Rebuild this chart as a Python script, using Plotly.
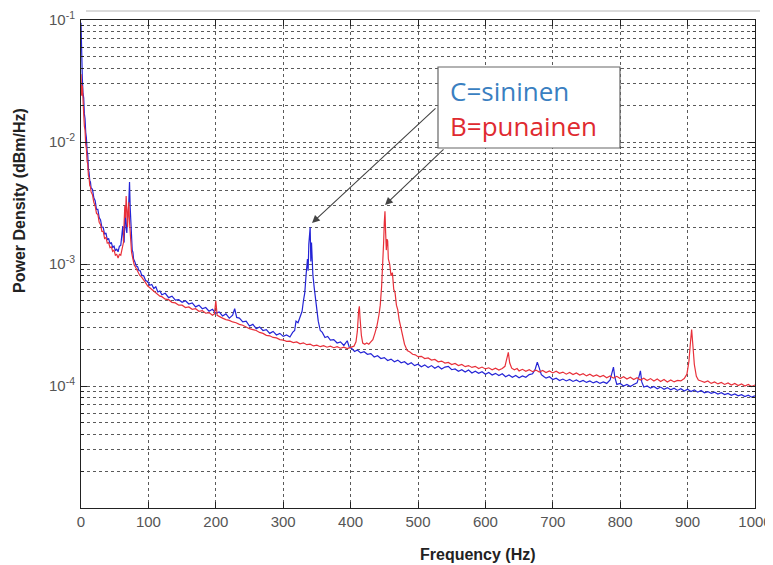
import plotly.graph_objects as go

# ---------------- data ----------------
freq_c = [0, 1, 2, 3, 4, 5, 6, 7, 8, 9, 10, 11, 12, 13, 14, 15, 17, 19, 21, 23, 25, 27, 29, 31, 33, 35,
          37, 39, 41, 43, 45, 47, 49, 51, 53, 55, 57, 59, 61, 62, 63, 64, 65, 66, 67, 68, 69, 70, 71, 72,
          73, 74, 75, 76, 77, 78, 80, 82, 84, 86, 88, 90, 93, 96, 99, 102, 105, 108, 111, 114, 117, 120,
          125, 130, 135, 140, 145, 150, 155, 160, 165, 170, 175, 180, 185, 190, 195, 200, 205, 210, 215,
          220, 225, 228, 231, 235, 240, 245, 250, 255, 260, 265, 270, 275, 280, 285, 290, 295, 300, 305,
          310, 314, 317, 319, 322, 325, 328, 330, 332, 334, 336, 337, 338, 340, 341, 342, 343, 344, 346,
          348, 350, 352, 355, 358, 362, 366, 370, 375, 380, 385, 390, 395, 398, 402, 406, 410, 415, 420,
          425, 430, 435, 440, 445, 450, 455, 460, 465, 470, 475, 480, 485, 490, 495, 500, 505, 510, 515,
          520, 525, 530, 535, 540, 545, 550, 555, 560, 565, 570, 575, 580, 585, 590, 595, 600, 605, 610,
          615, 620, 625, 630, 635, 640, 645, 650, 655, 660, 665, 670, 674, 677, 680, 683, 687, 690, 695,
          700, 705, 710, 715, 720, 725, 730, 735, 740, 745, 750, 755, 760, 765, 770, 775, 780, 785, 788,
          790, 792, 795, 800, 805, 810, 815, 820, 825, 828, 830, 832, 835, 840, 845, 850, 855, 860, 865,
          870, 875, 880, 885, 890, 895, 900, 905, 910, 915, 920, 925, 930, 935, 940, 945, 950, 955, 960,
          965, 970, 975, 980, 985, 990, 995, 1000]
psd_c = [9.5e-2, 4.6e-2, 3.3e-2, 2.5e-2, 2.3e-2, 1.7e-2, 1.55e-2, 1.2e-2, 1.08e-2, 8.5e-3, 7.8e-3,
         6.0e-3, 5.6e-3, 4.8e-3, 4.7e-3, 4.2e-3, 4.1e-3, 3.5e-3, 3.3e-3, 2.8e-3, 2.8e-3, 2.4e-3, 2.3e-3,
         2.0e-3, 2.0e-3, 1.75e-3, 1.8e-3, 1.58e-3, 1.62e-3, 1.46e-3, 1.5e-3, 1.37e-3, 1.4e-3, 1.28e-3,
         1.33e-3, 1.26e-3, 1.4e-3, 1.42e-3, 1.75e-3, 2.05e-3, 1.55e-3, 1.5e-3, 2.3e-3, 2.6e-3, 1.95e-3,
         1.8e-3, 2.35e-3, 2.5e-3, 3.3e-3, 4.7e-3, 2.9e-3, 2.0e-3, 1.65e-3, 1.3e-3, 1.25e-3, 1.1e-3,
         1.04e-3, 9.6e-4, 9.5e-4, 8.8e-4, 8.8e-4, 8.1e-4, 8.0e-4, 7.3e-4, 7.2e-4, 6.7e-4, 6.8e-4, 6.3e-4,
         6.5e-4, 5.9e-4, 6.0e-4, 5.6e-4,
         5.75e-4, 5.3e-4, 5.45e-4, 5.05e-4, 5.1e-4, 4.85e-4, 5.0e-4, 4.7e-4, 4.8e-4, 4.45e-4, 4.6e-4,
         4.3e-4, 4.4e-4, 4.1e-4, 4.25e-4, 3.95e-4, 4.05e-4, 3.75e-4, 3.9e-4,
         3.6e-4, 3.8e-4, 4.3e-4, 3.65e-4, 3.6e-4, 3.35e-4, 3.4e-4, 3.1e-4, 3.2e-4, 2.95e-4, 3.05e-4,
         2.85e-4, 2.9e-4, 2.7e-4, 2.8e-4, 2.62e-4, 2.7e-4, 2.55e-4, 2.62e-4,
         2.52e-4, 2.75e-4, 2.85e-4, 3.4e-4, 3.3e-4, 3.7e-4, 4.1e-4, 5.0e-4, 5.8e-4, 8.2e-4, 1.1e-3,
         8.8e-4, 1.45e-3, 2.0e-3, 1.05e-3, 1.5e-3, 9.5e-4, 8.2e-4, 6.4e-4,
         5.1e-4, 3.9e-4, 3.4e-4, 2.85e-4, 2.75e-4, 2.5e-4, 2.55e-4, 2.38e-4, 2.4e-4, 2.25e-4, 2.3e-4,
         2.15e-4, 2.35e-4, 2.08e-4, 2.02e-4, 1.92e-4, 1.97e-4, 1.87e-4, 1.91e-4,
         1.82e-4, 1.84e-4, 1.73e-4, 1.77e-4, 1.68e-4, 1.71e-4, 1.62e-4, 1.66e-4, 1.58e-4, 1.63e-4,
         1.55e-4, 1.58e-4, 1.5e-4, 1.55e-4, 1.47e-4, 1.51e-4, 1.44e-4, 1.49e-4, 1.42e-4,
         1.47e-4, 1.4e-4, 1.45e-4, 1.38e-4, 1.43e-4, 1.45e-4, 1.36e-4, 1.38e-4, 1.32e-4, 1.36e-4,
         1.3e-4, 1.35e-4, 1.28e-4, 1.32e-4, 1.27e-4, 1.31e-4, 1.25e-4, 1.29e-4, 1.23e-4,
         1.27e-4, 1.22e-4, 1.26e-4, 1.19e-4, 1.23e-4, 1.18e-4, 1.22e-4, 1.17e-4, 1.21e-4, 1.18e-4,
         1.24e-4, 1.26e-4, 1.38e-4, 1.57e-4, 1.4e-4, 1.24e-4, 1.19e-4, 1.16e-4, 1.19e-4,
         1.13e-4, 1.16e-4, 1.11e-4, 1.14e-4, 1.1e-4, 1.13e-4, 1.09e-4, 1.12e-4, 1.08e-4, 1.11e-4,
         1.07e-4, 1.1e-4, 1.06e-4, 1.09e-4, 1.05e-4, 1.08e-4, 1.05e-4, 1.12e-4, 1.3e-4,
         1.43e-4, 1.18e-4, 1.03e-4, 1.05e-4, 1.0e-4, 1.03e-4, 9.9e-5, 1.03e-4, 1.06e-4, 1.2e-4, 1.33e-4,
         1.08e-4, 9.8e-5, 1.0e-4, 9.6e-5, 9.9e-5, 9.5e-5, 9.8e-5, 9.4e-5,
         9.7e-5, 9.3e-5, 9.6e-5, 9.2e-5, 9.5e-5, 9.1e-5, 9.4e-5, 9.0e-5, 9.3e-5, 8.9e-5, 9.2e-5, 8.8e-5,
         9.0e-5, 8.7e-5, 8.9e-5, 8.6e-5, 8.8e-5, 8.5e-5, 8.7e-5,
         8.4e-5, 8.6e-5, 8.3e-5, 8.5e-5, 8.2e-5, 8.4e-5, 8.1e-5, 8.3e-5]

freq_b = [0, 1, 2, 3, 4, 5, 6, 7, 8, 9, 10, 11, 12, 13, 14, 15, 17, 19, 21, 23, 25, 27, 29, 31, 33, 35,
          37, 39, 41, 43, 45, 47, 49, 51, 53, 55, 57, 59, 61, 63, 64, 65, 66, 67, 68, 69, 70, 71, 72, 73,
          74, 75, 77, 79, 81, 83, 85, 87, 90, 93, 96, 99, 102, 105, 108, 111, 114, 117, 120, 125, 130,
          135, 140, 145, 150, 155, 160, 165, 170, 175, 180, 185, 190, 195, 198, 200, 202, 205, 210, 215,
          220, 225, 230, 235, 240, 245, 250, 255, 260, 265, 270, 275, 280, 285, 290, 295, 300, 305, 310,
          315, 320, 325, 330, 335, 340, 345, 350, 355, 360, 365, 370, 375, 380, 385, 390, 395, 400, 405,
          408, 410, 412, 413, 414, 416, 418, 421, 424, 427, 430, 433, 436, 439, 442, 444, 446, 448, 449,
          450, 451, 452, 453, 454, 455, 456, 458, 460, 462, 464, 466, 468, 470, 472, 474, 477, 480, 484,
          488, 492, 496, 500, 505, 510, 515, 520, 525, 530, 535, 540, 545, 550, 555, 560, 565, 570, 575,
          580, 585, 590, 595, 600, 605, 610, 615, 620, 625, 629, 632, 634, 636, 639, 643, 647, 650, 655,
          660, 665, 670, 675, 680, 685, 690, 695, 700, 705, 710, 715, 720, 725, 730, 735, 740, 745, 750,
          755, 760, 765, 770, 775, 780, 785, 790, 795, 800, 805, 810, 815, 820, 825, 830, 835, 840, 845,
          850, 855, 860, 865, 870, 875, 880, 885, 890, 895, 899, 902, 904, 906, 908, 910, 913, 916, 920,
          925, 930, 935, 940, 945, 950, 955, 960, 965, 970, 975, 980, 985, 990, 995, 1000]
psd_b = [3.6e-2, 2.4e-2, 2.9e-2, 1.9e-2, 1.7e-2, 1.35e-2, 1.25e-2, 9.5e-3, 8.8e-3, 7.0e-3, 6.6e-3,
         5.3e-3, 5.1e-3, 4.4e-3, 4.3e-3, 3.9e-3, 3.7e-3, 3.2e-3, 3.0e-3, 2.6e-3, 2.55e-3, 2.2e-3, 2.1e-3,
         1.85e-3, 1.85e-3, 1.62e-3, 1.65e-3, 1.48e-3, 1.5e-3, 1.36e-3, 1.38e-3, 1.27e-3, 1.3e-3, 1.18e-3,
         1.2e-3, 1.12e-3, 1.2e-3, 1.18e-3, 1.35e-3, 1.5e-3, 2.2e-3, 3.0e-3, 2.4e-3, 3.6e-3, 2.8e-3,
         2.0e-3, 2.7e-3, 3.2e-3, 2.2e-3, 1.7e-3,
         1.4e-3, 1.25e-3, 1.1e-3, 9.8e-4, 9.4e-4, 8.9e-4, 8.6e-4, 8.1e-4, 7.8e-4, 7.3e-4, 7.0e-4, 6.6e-4,
         6.4e-4, 6.2e-4, 6.0e-4, 5.8e-4, 5.65e-4, 5.45e-4, 5.4e-4, 5.15e-4, 5.1e-4,
         4.85e-4, 4.8e-4, 4.6e-4, 4.6e-4, 4.4e-4, 4.45e-4, 4.25e-4, 4.3e-4, 4.1e-4, 4.15e-4, 3.95e-4,
         4.0e-4, 3.8e-4, 3.9e-4, 5.0e-4, 3.8e-4, 3.7e-4, 3.6e-4, 3.5e-4,
         3.45e-4, 3.35e-4, 3.3e-4, 3.2e-4, 3.15e-4, 3.05e-4, 2.95e-4, 2.9e-4, 2.85e-4, 2.75e-4, 2.7e-4,
         2.6e-4, 2.58e-4, 2.5e-4, 2.48e-4, 2.4e-4, 2.38e-4, 2.32e-4, 2.33e-4,
         2.27e-4, 2.3e-4, 2.22e-4, 2.26e-4, 2.18e-4, 2.2e-4, 2.13e-4, 2.16e-4, 2.1e-4, 2.14e-4, 2.08e-4,
         2.12e-4, 2.06e-4, 2.1e-4, 2.04e-4, 2.08e-4, 2.03e-4, 2.07e-4, 2.12e-4,
         2.3e-4, 2.8e-4, 4.2e-4, 4.5e-4, 3.6e-4, 2.6e-4, 2.25e-4, 2.2e-4, 2.25e-4, 2.2e-4, 2.3e-4, 2.4e-4,
         2.7e-4, 3.1e-4, 3.8e-4, 4.6e-4, 6.5e-4, 1.0e-3, 1.5e-3,
         2.2e-3, 2.7e-3, 1.8e-3, 1.3e-3, 1.6e-3, 1.55e-3, 1.1e-3, 1.0e-3, 8.0e-4, 8.5e-4, 6.2e-4, 5.8e-4,
         4.6e-4, 4.2e-4, 3.5e-4, 3.1e-4, 2.5e-4, 2.2e-4, 1.95e-4,
         1.9e-4, 1.82e-4, 1.8e-4, 1.74e-4, 1.75e-4, 1.68e-4, 1.7e-4, 1.63e-4, 1.65e-4, 1.58e-4, 1.6e-4,
         1.54e-4, 1.56e-4, 1.5e-4, 1.53e-4, 1.47e-4, 1.5e-4, 1.44e-4, 1.47e-4,
         1.42e-4, 1.45e-4, 1.39e-4, 1.43e-4, 1.38e-4, 1.41e-4, 1.36e-4, 1.4e-4, 1.35e-4, 1.39e-4, 1.45e-4,
         1.7e-4, 1.89e-4, 1.55e-4, 1.4e-4, 1.36e-4, 1.39e-4, 1.33e-4, 1.37e-4,
         1.32e-4, 1.36e-4, 1.31e-4, 1.35e-4, 1.3e-4, 1.34e-4, 1.29e-4, 1.33e-4, 1.28e-4, 1.32e-4, 1.27e-4,
         1.3e-4, 1.25e-4, 1.29e-4, 1.24e-4, 1.28e-4, 1.23e-4, 1.26e-4, 1.21e-4,
         1.25e-4, 1.2e-4, 1.23e-4, 1.19e-4, 1.22e-4, 1.17e-4, 1.21e-4, 1.16e-4, 1.2e-4, 1.15e-4, 1.19e-4,
         1.14e-4, 1.18e-4, 1.13e-4, 1.17e-4, 1.12e-4, 1.16e-4, 1.11e-4, 1.15e-4,
         1.1e-4, 1.14e-4, 1.09e-4, 1.13e-4, 1.08e-4, 1.12e-4, 1.08e-4, 1.11e-4, 1.1e-4, 1.15e-4, 1.25e-4,
         1.6e-4, 2.2e-4, 2.9e-4, 2.1e-4, 1.5e-4, 1.2e-4, 1.12e-4, 1.1e-4,
         1.07e-4, 1.1e-4, 1.05e-4, 1.08e-4, 1.04e-4, 1.07e-4, 1.03e-4, 1.06e-4, 1.02e-4, 1.05e-4, 1.01e-4,
         1.04e-4, 1.0e-4, 1.03e-4, 9.9e-5, 1.02e-4]

x_ticks = [0, 100, 200, 300, 400, 500, 600, 700, 800, 900, 1000]
y_major = [1e-4, 1e-3, 1e-2, 1e-1]
y_major_text = ["10<sup>-4</sup>", "10<sup>-3</sup>", "10<sup>-2</sup>", "10<sup>-1</sup>"]
y_minor = [m * d for d in (1e-5, 1e-4, 1e-3, 1e-2) for m in (2, 3, 4, 5, 6, 7, 8, 9)]

label_c = "C=sininen"
label_b = "B=punainen"
x_title = "Frequency (Hz)"
y_title = "Power Density (dBm/Hz)"

# ---------------- figure ----------------
# the page body has an 8 px margin, so the figure is shrunk and shifted by it
OFF = 8
WIN_W, WIN_H = 773, 565
L, R, T, B = 81, 18, 20, 57          # plot area in window pixels
W, H = WIN_W - OFF, WIN_H - OFF
pw, ph = WIN_W - L - R, WIN_H - T - B


def px(x):
    return (x - L) / pw


def py(y):
    return (WIN_H - B - y) / ph


fig = go.Figure()
fig.add_trace(go.Scatter(x=freq_c, y=psd_c, mode="lines", name=label_c,
                         line=dict(color="#2424d6", width=1.2)))
fig.add_trace(go.Scatter(x=freq_b, y=psd_b, mode="lines", name=label_b,
                         line=dict(color="#e8303a", width=1.2)))

grid = dict(gridcolor="#5a5a5a", griddash="dot", gridwidth=1)

fig.update_layout(
    width=W, height=H,
    margin=dict(l=L - OFF, r=R, t=T - OFF, b=B, autoexpand=False),
    paper_bgcolor="white", plot_bgcolor="white",
    showlegend=False,
    font=dict(family="Liberation Sans, Arial, sans-serif", color="#444"),
    xaxis=dict(range=[0, 1000], tickvals=x_ticks, ticks="inside", ticklen=6,
               tickcolor="#222", showline=True, linecolor="#222", linewidth=1,
               mirror="ticks", showgrid=True, zeroline=False, automargin=False,
               tickfont=dict(size=15, color="#555"), **grid),
    yaxis=dict(type="log", range=[-5, -1], tickvals=y_major, ticktext=y_major_text,
               ticks="inside", ticklen=6, tickcolor="#222", showline=True,
               linecolor="#222", linewidth=1, mirror="ticks", showgrid=True,
               zeroline=False, automargin=False, tickfont=dict(size=15, color="#555"),
               ticklabelstandoff=2,
               minor=dict(tickvals=y_minor, ticks="inside", ticklen=3,
                          tickcolor="#222", showgrid=True, **grid),
               **grid),
)

# faint band across the top (from the screenshot)
fig.add_shape(type="line", xref="paper", yref="paper",
              x0=px(86), x1=px(760), y0=py(11), y1=py(11),
              line=dict(color="#dadada", width=2))

# legend box
fig.add_shape(type="rect", xref="paper", yref="paper",
              x0=px(438), x1=px(620), y0=py(148), y1=py(67),
              line=dict(color="#666", width=1.2), fillcolor="white", layer="above")
fig.add_annotation(xref="paper", yref="paper", x=px(448), y=py(91), xanchor="left",
                   yanchor="middle", showarrow=False, text=label_c,
                   font=dict(family="Open Sans, sans-serif", size=26, color="#3a7fc1"))
fig.add_annotation(xref="paper", yref="paper", x=px(448), y=py(126), xanchor="left",
                   yanchor="middle", showarrow=False, text=label_b,
                   font=dict(family="Open Sans, sans-serif", size=26, color="#df2a30"))

# arrows to peaks
for (hx, hy, tx, ty) in [(312, 223, 437, 107), (385, 205, 445, 148)]:
    fig.add_annotation(xref="paper", yref="paper", x=px(hx), y=py(hy),
                       ax=tx - hx, ay=ty - hy, axref="pixel", ayref="pixel",
                       text="", showarrow=True, arrowhead=2, arrowsize=1.4,
                       arrowwidth=1.1, arrowcolor="#444")

# axis titles
fig.add_annotation(xref="paper", yref="paper", x=px(478), y=py(554), showarrow=False,
                   text="<b>" + x_title + "</b>", xanchor="center", yanchor="middle",
                   font=dict(size=16, color="#222"))
fig.add_annotation(xref="paper", yref="paper", x=px(19), y=py(201), showarrow=False,
                   text="<b>" + y_title + "</b>", textangle=-90, xanchor="center",
                   yanchor="middle", font=dict(size=16, color="#222"))

fig.write_html("out.html")
